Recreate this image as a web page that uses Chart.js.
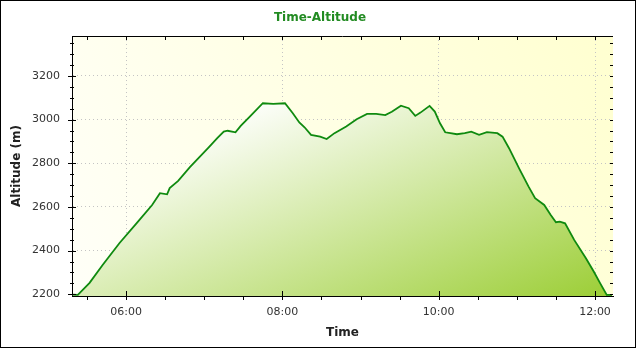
<!DOCTYPE html>
<html>
<head>
<meta charset="utf-8">
<script src="https://cdn.jsdelivr.net/npm/chart.js@4.4.0/dist/chart.umd.min.js"></script>
<style>
  html, body { margin: 0; padding: 0; background: #fff; }
</style>
</head>
<body>
<canvas id="altChart" width="640" height="350"></canvas>
<script>
// time of day in minutes since midnight, altitude in metres
var timeMinutes = [319, 323, 332, 342, 355, 368, 380, 386, 391.5, 393.5, 400, 409, 424, 430, 435, 438, 444, 448,
    455, 465, 473, 482, 488, 493, 497, 502, 509, 514, 520, 529, 537, 545, 552, 559, 564, 571, 577, 582, 586,
    593, 597, 601, 605, 609, 614, 620, 625, 631, 637, 645, 649, 654, 662, 669, 674, 681, 686, 690, 693, 697,
    704, 713, 719, 724, 729, 733];
var altitudes = [2198, 2197, 2252, 2334, 2435, 2525, 2609, 2663, 2658, 2686, 2719, 2782, 2876, 2915, 2945, 2949, 2942, 2971,
    3014, 3075, 3072, 3075, 3029, 2987, 2965, 2930, 2922, 2911, 2938, 2968, 3002, 3026, 3026, 3021, 3036, 3064, 3052, 3017, 3032,
    3063, 3037, 2983, 2942, 2938, 2933, 2938, 2945, 2930, 2943, 2938, 2922, 2869, 2773, 2693, 2640, 2609, 2563, 2530, 2533, 2525,
    2449, 2365, 2304, 2250, 2197, 2197];

var xTickMinutes = [360, 480, 600, 720];
var xTickLabels = ['06:00', '08:00', '10:00', '12:00'];
var yTickValues = [2200, 2400, 2600, 2800, 3000, 3200];
var xRange = [318.5, 733.8];
var yRange = [2192, 3383];
var xMinorStep = 30;
var yMinorStep = 50;

var points = timeMinutes.map(function (t, i) { return { x: t, y: altitudes[i] }; });

// plot background, axis ticks on all four sides, outer frame
var framePlugin = {
    id: 'frame',
    beforeDraw: function (chart) {
        var ctx = chart.ctx, a = chart.chartArea;
        ctx.save();
        ctx.fillStyle = '#ffffff';
        ctx.fillRect(0, 0, chart.width, chart.height);
        var bg = ctx.createLinearGradient(a.left, a.bottom, a.right, a.top);
        bg.addColorStop(0, '#fffff8');
        bg.addColorStop(1, '#ffffd0');
        ctx.fillStyle = bg;
        ctx.fillRect(a.left, a.top, a.right - a.left, a.bottom - a.top);
        ctx.restore();
    },
    afterDatasetsDraw: function (chart) {
        var ctx = chart.ctx, a = chart.chartArea;
        var xs = chart.scales.x, ys = chart.scales.y;
        ctx.save();
        ctx.strokeStyle = '#000';
        ctx.lineWidth = 1;
        ctx.beginPath();
        // top border
        ctx.moveTo(a.left, Math.round(a.top) + 0.5);
        ctx.lineTo(a.right, Math.round(a.top) + 0.5);
        var v, p, major;
        for (v = yTickValues[0]; v <= yRange[1]; v += yMinorStep) {
            p = Math.round(ys.getPixelForValue(v)) + 0.5;
            major = yTickValues.indexOf(v) >= 0;
            var l = Math.round(a.left);
            ctx.moveTo(l - (major ? 4 : 2), p);
            ctx.lineTo(l + (major ? 4 : 2), p);
            var r = Math.round(a.right);
            ctx.moveTo(r - 3, p);
            ctx.lineTo(r, p);
        }
        for (v = 330; v <= xRange[1]; v += xMinorStep) {
            p = Math.round(xs.getPixelForValue(v)) + 0.5;
            major = xTickMinutes.indexOf(v) >= 0;
            var b = Math.round(a.bottom);
            ctx.moveTo(p, b - (major ? 5 : 0));
            ctx.lineTo(p, b + 4);
            var t = Math.round(a.top);
            ctx.moveTo(p, t);
            ctx.lineTo(p, t + 4);
        }
        ctx.stroke();
        ctx.restore();
    },
    afterDraw: function (chart) {
        var ctx = chart.ctx;
        ctx.save();
        ctx.strokeStyle = '#000';
        ctx.lineWidth = 1;
        ctx.strokeRect(0.5, 0.5, 635, 347);
        ctx.restore();
    }
};

var ctx = document.getElementById('altChart').getContext('2d');
new Chart(ctx, {
    type: 'line',
    data: {
        datasets: [{
            label: 'Altitude',
            data: points,
            borderColor: '#0f8a0f',
            borderWidth: 1.8,
            pointRadius: 0,
            tension: 0,
            fill: 'start',
            backgroundColor: function (c) {
                var a = c.chart.chartArea;
                if (!a) return 'rgba(0,0,0,0)';
                var w = a.right - a.left, h = a.bottom - a.top;
                var g = c.chart.ctx.createLinearGradient(a.left + 0.365 * w, a.top + 0.21 * h, a.left + 0.6 * w, a.top + 1.37 * h);
                g.addColorStop(0, '#ffffff');
                g.addColorStop(1, '#9acd32');
                return g;
            }
        }]
    },
    options: {
        responsive: false,
        animation: false,
        layout: { padding: { left: 0, right: 0, top: 0, bottom: 0 } },
        plugins: {
            legend: { display: false },
            tooltip: { enabled: false },
            title: {
                display: true,
                text: 'Time-Altitude',
                color: '#228b22',
                font: { family: 'DejaVu Sans', size: 12, weight: 'bold' },
                padding: { top: 10.5, bottom: 11.1 }
            }
        },
        scales: {
            x: {
                type: 'linear',
                min: xRange[0],
                max: xRange[1],
                afterBuildTicks: function (s) { s.ticks = xTickMinutes.map(function (m) { return { value: m }; }); },
                afterFit: function (s) { s.height = 54; },
                ticks: {
                    autoSkip: false,
                    maxRotation: 0,
                    padding: 10,
                    color: '#333',
                    font: { family: 'DejaVu Sans', size: 11 },
                    callback: function (v) { return xTickLabels[xTickMinutes.indexOf(v)]; }
                },
                grid: { color: '#c4c4c4', lineWidth: 1, drawTicks: false },
                border: { display: true, color: '#000', width: 1, dash: [1, 3] },
                title: {
                    display: true,
                    text: 'Time',
                    color: '#222',
                    font: { family: 'DejaVu Sans', size: 12, weight: 'bold' },
                    padding: { top: 0, bottom: 9.5 }
                }
            },
            y: {
                type: 'linear',
                min: yRange[0],
                max: yRange[1],
                afterBuildTicks: function (s) { s.ticks = yTickValues.map(function (v) { return { value: v }; }); },
                afterFit: function (s) { s.width = 72; },
                ticks: {
                    padding: 12,
                    color: '#333',
                    font: { family: 'DejaVu Sans', size: 11 },
                    callback: function (v) { return String(v); }
                },
                grid: { color: '#c4c4c4', lineWidth: 1, drawTicks: false },
                border: { display: true, color: '#000', width: 1, dash: [1, 3] },
                title: {
                    display: true,
                    text: 'Altitude (m)',
                    color: '#222',
                    font: { family: 'DejaVu Sans', size: 12, weight: 'bold' },
                    padding: { top: 10, bottom: 0 }
                }
            },
            yRight: {
                position: 'right',
                display: true,
                ticks: { display: false },
                grid: { display: false, drawTicks: false },
                border: { display: false },
                afterFit: function (s) { s.width = 27; }
            }
        }
    },
    plugins: [framePlugin]
});
</script>
</body>
</html>
